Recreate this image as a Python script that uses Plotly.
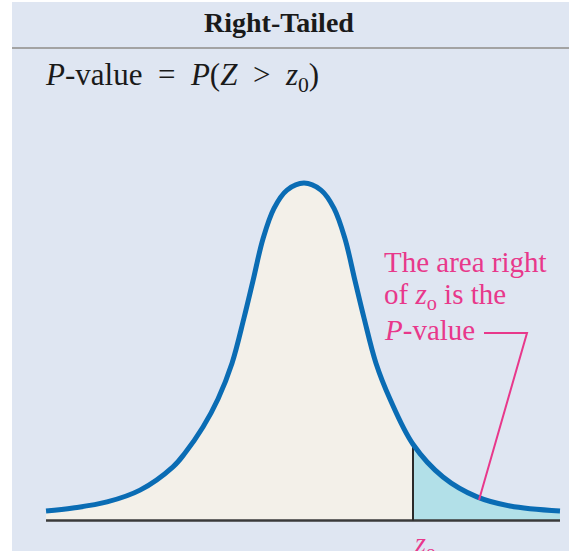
import plotly.graph_objects as go

# ---- data (z units, relative height) ----
curve_z = [-4.161, -3.726, -3.177, -2.645, -2.113, -1.919, -1.629, -1.387, -1.161, -0.968,
           -0.823, -0.661, -0.484, -0.274, 0.0, 0.274, 0.484, 0.661, 0.823, 0.968,
           1.161, 1.387, 1.758, 2.242, 2.790, 3.323, 4.129]
curve_h = [0.028, 0.037, 0.055, 0.090, 0.159, 0.200, 0.277, 0.360, 0.466, 0.600,
           0.710, 0.835, 0.925, 0.979, 1.0, 0.979, 0.925, 0.835, 0.710, 0.600,
           0.466, 0.360, 0.226, 0.129, 0.070, 0.043, 0.028]
z0 = 1.758

title_text = "<b>Right-Tailed</b>"
formula_text = "<i>P</i>-value\u2002=\u2002<i>P</i>(<i>Z</i>\u2002>\u2002<i>z</i><sub>0</sub>)"
note_lines = ["The area right", "of <i>z</i><sub>o</sub> is the", "<i>P</i>-value"]
z0_label = "<i>z</i><sub>o</sub>"

# ---- styling ----
W, H = 569, 551
BG = "#dfe6f2"
BEIGE = "#f3f0e9"
TAIL = "#b2e0e8"
BLUE = "#0a6cb4"
PINK = "#e8388b"
SERIF = "Liberation Serif, Times New Roman, serif"

# pixel mapping of the drawing
PX_PER_Z = 62.0
CX = 304.0
BASE_PY = 520.5
PEAK_PX = 337.5

def px(x):
    return x / W

def py(y):
    return 1 - y / H

left_z = [z for z in curve_z if z <= z0]
left_h = [h for z, h in zip(curve_z, curve_h) if z <= z0]
right_z = [z for z in curve_z if z >= z0]
right_h = [h for z, h in zip(curve_z, curve_h) if z >= z0]
h_at_z0 = curve_h[curve_z.index(z0)]

fig = go.Figure()
fig.add_trace(go.Scatter(x=left_z, y=left_h, mode="lines", line=dict(width=0, shape="spline"),
                         fill="tozeroy", fillcolor=BEIGE, hoverinfo="skip"))
fig.add_trace(go.Scatter(x=right_z, y=right_h, mode="lines", line=dict(width=0, shape="spline"),
                         fill="tozeroy", fillcolor=TAIL, hoverinfo="skip"))
# baseline
fig.add_trace(go.Scatter(x=[curve_z[0], curve_z[-1]], y=[0, 0], mode="lines",
                         line=dict(color="#3a3a3a", width=2.5), hoverinfo="skip"))
# z0 line
fig.add_trace(go.Scatter(x=[z0, z0], y=[0, h_at_z0], mode="lines",
                         line=dict(color="#2a2a2a", width=2), hoverinfo="skip"))
# curve
fig.add_trace(go.Scatter(x=curve_z, y=curve_h, mode="lines",
                         line=dict(color=BLUE, width=5, shape="spline"), hoverinfo="skip"))

xr = [(0 - CX) / PX_PER_Z, (W - CX) / PX_PER_Z]
yr = [(BASE_PY - H) / PEAK_PX, BASE_PY / PEAK_PX]

def dx(p):
    return (p - CX) / PX_PER_Z

def dy(p):
    return (BASE_PY - p) / PEAK_PX

# pink leader line (layout decoration)
fig.add_trace(go.Scatter(x=[dx(484), dx(527), dx(479)], y=[dy(333), dy(333), dy(500)],
                         mode="lines", line=dict(color=PINK, width=2), hoverinfo="skip"))

shapes = [
    dict(type="rect", xref="paper", yref="paper", x0=px(12), x1=1, y0=0, y1=py(2),
         fillcolor=BG, line=dict(width=0), layer="below"),
    dict(type="line", xref="paper", yref="paper", x0=px(12), x1=1, y0=py(48), y1=py(48),
         line=dict(color="#a3a3a3", width=2)),
]

annotations = [
    dict(text=title_text, xref="paper", yref="paper", x=px(279), y=py(23),
         xanchor="center", yanchor="middle", showarrow=False,
         font=dict(family=SERIF, size=28, color="#1a1a1a")),
    dict(text=formula_text, xref="paper", yref="paper", x=px(43), y=py(77),
         xanchor="left", yanchor="middle", showarrow=False,
         font=dict(family=SERIF, size=31, color="#1a1a1a")),
    dict(text=z0_label, xref="paper", yref="paper", x=px(412), y=py(544),
         xanchor="left", yanchor="middle", showarrow=False,
         font=dict(family=SERIF, size=28, color=PINK)),
]
for i, line in enumerate(note_lines):
    annotations.append(dict(text=line, xref="paper", yref="paper", x=px(382), y=py(262 + 34 * i),
                            xanchor="left", yanchor="middle", showarrow=False,
                            font=dict(family=SERIF, size=29, color=PINK)))

fig.update_layout(
    width=W, height=H, margin=dict(l=0, r=0, t=0, b=0, pad=0),
    paper_bgcolor="white", plot_bgcolor="rgba(0,0,0,0)", showlegend=False,
    xaxis=dict(range=xr, visible=False, fixedrange=True),
    yaxis=dict(range=yr, visible=False, fixedrange=True),
    shapes=shapes, annotations=annotations,
)
fig.write_html("out.html", config={"displayModeBar": False},
               post_script="document.body.style.margin='0';")
